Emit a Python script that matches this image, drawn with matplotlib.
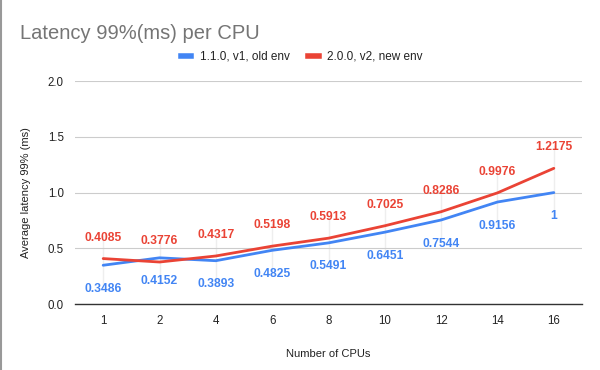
import matplotlib
matplotlib.use("Agg")
import matplotlib.pyplot as plt
from matplotlib.lines import Line2D

plt.rcParams['font.family'] = ['Liberation Sans', 'DejaVu Sans']

cpus = ["1", "2", "4", "6", "8", "10", "12", "14", "16"]
old_env = [0.3486, 0.4152, 0.3893, 0.4825, 0.5491, 0.6451, 0.7544, 0.9156, 1.0]
new_env = [0.4085, 0.3776, 0.4317, 0.5198, 0.5913, 0.7025, 0.8286, 0.9976, 1.2175]
old_labels = ["0.3486", "0.4152", "0.3893", "0.4825", "0.5491", "0.6451", "0.7544", "0.9156", "1"]
new_labels = ["0.4085", "0.3776", "0.4317", "0.5198", "0.5913", "0.7025", "0.8286", "0.9976", "1.2175"]
series_names = ["1.1.0, v1, old env", "2.0.0, v2, new env"]
yticks = [0.0, 0.5, 1.0, 1.5, 2.0]

BLUE = "#4285F4"
RED = "#EA4335"

fig = plt.figure(figsize=(6, 3.7), dpi=100)
ax = fig.add_axes([0.125, 0.178, 0.845, 0.603])

x = [i + 0.5 for i in range(len(cpus))]

# faint leader lines
for xi, o, n in zip(x, old_env, new_env):
    ax.plot([xi, xi], [min(o, n) - 0.2, max(o, n) + 0.2], color="#eeeeee", lw=1, zorder=1)

ax.plot(x, old_env, color=BLUE, lw=2, zorder=3, solid_capstyle='round')
ax.plot(x, new_env, color=RED, lw=2, zorder=3, solid_capstyle='round')

for xi, v, lab in zip(x, old_env, old_labels):
    ax.annotate(lab, (xi, v), xytext=(0, -17), textcoords="offset points",
                ha="center", va="center", color=BLUE, fontsize=8.7, fontweight="bold", zorder=4)
for xi, v, lab in zip(x, new_env, new_labels):
    ax.annotate(lab, (xi, v), xytext=(0, 15), textcoords="offset points",
                ha="center", va="center", color=RED, fontsize=8.7, fontweight="bold", zorder=4)

ax.set_xlim(0, len(cpus))
ax.set_ylim(0, 2.0)
ax.set_xticks(x)
ax.set_xticklabels(cpus)
ax.set_yticks(yticks)
ax.set_yticklabels([f"{t:.1f}" for t in yticks])
ax.tick_params(axis="both", length=0, labelsize=8.3, colors="#222222", pad=8)
ax.grid(axis="y", color="#cccccc", lw=0.8, zorder=0)
for s in ["top", "right", "left"]:
    ax.spines[s].set_visible(False)
ax.spines["bottom"].set_color("#333333")
ax.spines["bottom"].set_linewidth(1)
ax.spines["bottom"].set_zorder(2)

ax.set_ylabel("Average latency 99% (ms)", fontsize=8, color="#222222", labelpad=12)
ax.set_xlabel("Number of CPUs", fontsize=8, color="#222222", labelpad=16)

fig.text(0.033, 0.91, "Latency 99%(ms) per CPU", fontsize=14.5, color="#757575", ha="left", va="center")

handles = [Line2D([0], [0], color=BLUE, lw=4), Line2D([0], [0], color=RED, lw=4)]
fig.legend(handles, series_names, loc="center", bbox_to_anchor=(0.503, 0.846), ncol=2,
           frameon=False, fontsize=8.5, handlelength=0.9, handletextpad=0.7, columnspacing=1.6,
           labelcolor="#222222")

fig.add_artist(Line2D([0.001, 0.001], [0, 1], color="#999999", lw=1.5, transform=fig.transFigure))

fig.savefig("out.png", dpi=100)
